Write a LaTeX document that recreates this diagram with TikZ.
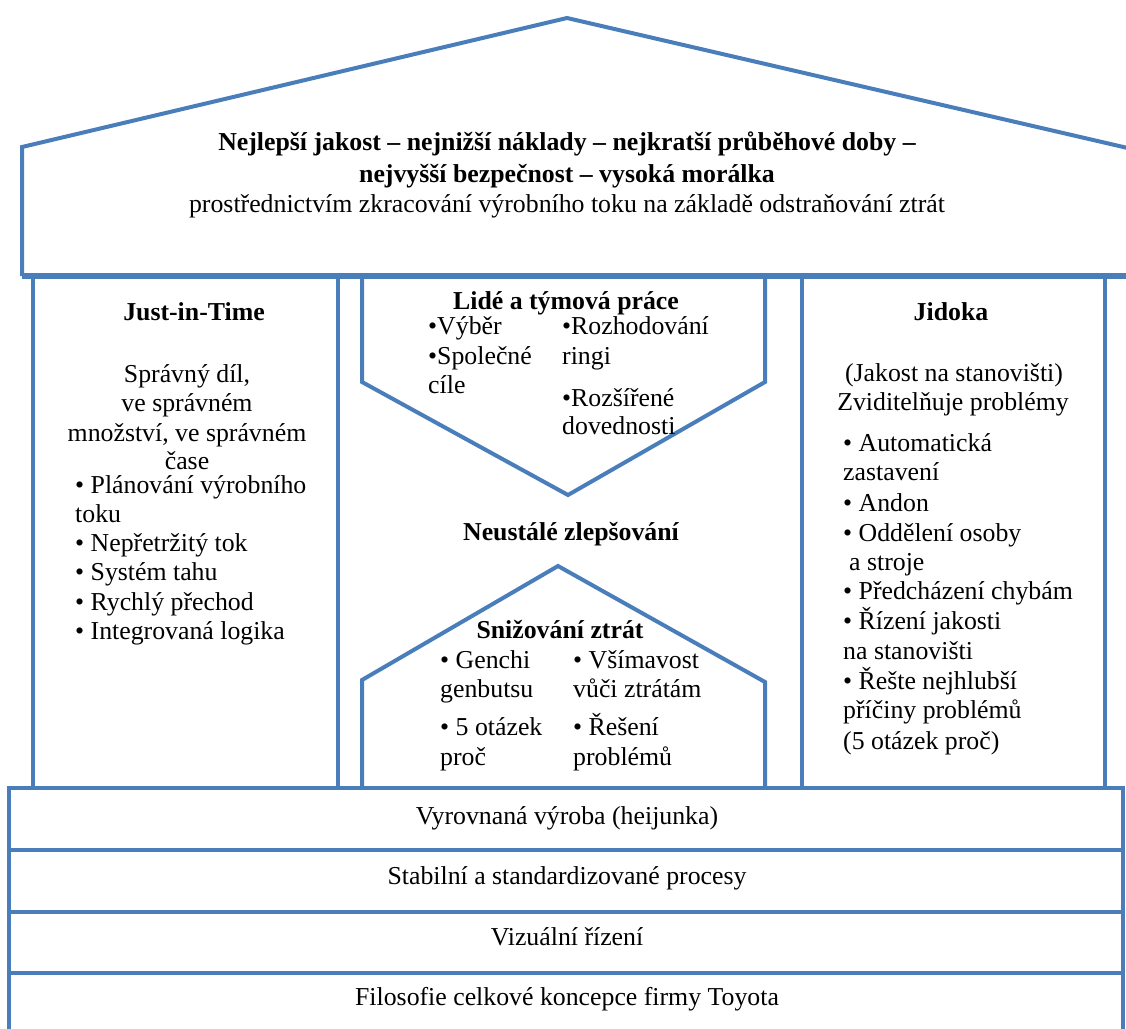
\documentclass[tikz,border=0pt]{standalone}
\usepackage{fontspec}
\setmainfont{Liberation Serif}
\definecolor{houseblue}{HTML}{4A7EBB}
\begin{document}
\begin{tikzpicture}[x=1pt,y=-1pt,
  wall/.style={draw=houseblue, line width=4pt, line join=miter},
  txt/.style={font=\fontsize{25.8}{29}\selectfont, inner sep=0pt, text=black},
  hd/.style={font=\fontsize{25.8}{29}\selectfont\bfseries, inner sep=0pt, text=black},
  lft/.style={txt, anchor=mid west},
  ctr/.style={txt, anchor=mid},
  hdc/.style={hd, anchor=mid}]

\useasboundingbox (0,0) rectangle (1126,1028);
\clip (0,0) rectangle (1126,1028);

% roof
\coordinate (roofL) at (22,147);
\coordinate (apex) at (567,18);
\coordinate (roofR) at (1132,149);
\draw[wall] (22,276) -- (roofL) -- (apex) -- (roofR) -- (1132,276);
\draw[houseblue, line width=6pt] (22,276) -- (1132,276);

% pillars
\draw[wall] (33,277) rectangle (338,788);
\draw[wall] (802,277) rectangle (1105,788);

% centre: people and teamwork (pointing down), waste reduction (pointing up)
\draw[wall] (362,277) -- (362,382) -- (568,495) -- (765,382) -- (765,277);
\draw[wall] (362,788) -- (362,680) -- (558,566) -- (765,682) -- (765,788);

% foundation bands
\draw[wall] (9,788) rectangle (1123,1040);
\draw[wall] (9,850) -- (1123,850);
\draw[wall] (9,912) -- (1123,912);
\draw[wall] (9,973) -- (1123,973);

% roof texts
\node[hdc] (goal1) at (567,148) {Nejlepší jakost – nejnižší náklady – nejkratší průběhové doby –};
\node[hdc] (goal2) at (567,180) {nejvyšší bezpečnost – vysoká morálka};
\node[ctr] (goal3) at (567,210) {prostřednictvím zkracování výrobního toku na základě odstraňování ztrát};

% Just-in-Time pillar
\node[hdc] (jit) at (194,318) {Just-in-Time};
\node[ctr] (jit1) at (187,380) {Správný díl,};
\node[ctr] (jit2) at (187,409) {ve správném};
\node[ctr] (jit3) at (187,439) {množství, ve správném};
\node[ctr] (jit4) at (187,467) {čase};
\node[lft] (jit5) at (75,491) {• Plánování výrobního};
\node[lft] (jit6) at (75,520) {toku};
\node[lft] (jit7) at (75,549) {• Nepřetržitý tok};
\node[lft] (jit8) at (75,578) {• Systém tahu};
\node[lft] (jit9) at (75,608) {• Rychlý přechod};
\node[lft] (jit10) at (75,637) {• Integrovaná logika};

% people and teamwork
\node[hdc] (ppl) at (566,307) {Lidé a týmová práce};
\node[lft] (ppl1) at (428,332) {•Výběr};
\node[lft] (ppl2) at (428,362) {•Společné};
\node[lft] (ppl3) at (428,391) {cíle};
\node[lft] (ppl4) at (562,332) {•Rozhodování};
\node[lft] (ppl5) at (562,362) {ringi};
\node[lft] (ppl6) at (562,404) {•Rozšířené};
\node[lft] (ppl7) at (562,432) {dovednosti};

\node[hdc] (kaizen) at (571,538) {Neustálé zlepšování};

% waste reduction
\node[hdc] (waste) at (560,636) {Snižování ztrát};
\node[lft] (w1) at (440,666) {• Genchi};
\node[lft] (w2) at (440,695) {genbutsu};
\node[lft] (w3) at (440,733) {• 5 otázek};
\node[lft] (w4) at (440,763) {proč};
\node[lft] (w5) at (573,666) {• Všímavost};
\node[lft] (w6) at (573,695) {vůči ztrátám};
\node[lft] (w7) at (573,733) {• Řešení};
\node[lft] (w8) at (573,763) {problémů};

% Jidoka pillar
\node[hdc] (jid) at (951,318) {Jidoka};
\node[ctr] (jid1) at (954,379) {(Jakost na stanovišti)};
\node[ctr] (jid2) at (953,408) {Zviditelňuje problémy};
\node[lft] (jid3) at (843,449) {• Automatická};
\node[lft] (jid4) at (843,478) {zastavení};
\node[lft] (jid5) at (843,509) {• Andon};
\node[lft] (jid6) at (843,539) {• Oddělení osoby};
\node[lft] (jid7) at (849,568) {a stroje};
\node[lft] (jid8) at (843,597) {• Předcházení chybám};
\node[lft] (jid9) at (843,627) {• Řízení jakosti};
\node[lft] (jid10) at (843,657) {na stanovišti};
\node[lft] (jid11) at (843,687) {• Řešte nejhlubší};
\node[lft] (jid12) at (843,716) {příčiny problémů};
\node[lft] (jid13) at (843,747) {(5 otázek proč)};

% foundation texts
\node[ctr] (b1) at (567,822) {Vyrovnaná výroba (heijunka)};
\node[ctr] (b2) at (567,882) {Stabilní a standardizované procesy};
\node[ctr] (b3) at (567,943) {Vizuální řízení};
\node[ctr] (b4) at (567,1003) {Filosofie celkové koncepce firmy Toyota};
\end{tikzpicture}
\end{document}
